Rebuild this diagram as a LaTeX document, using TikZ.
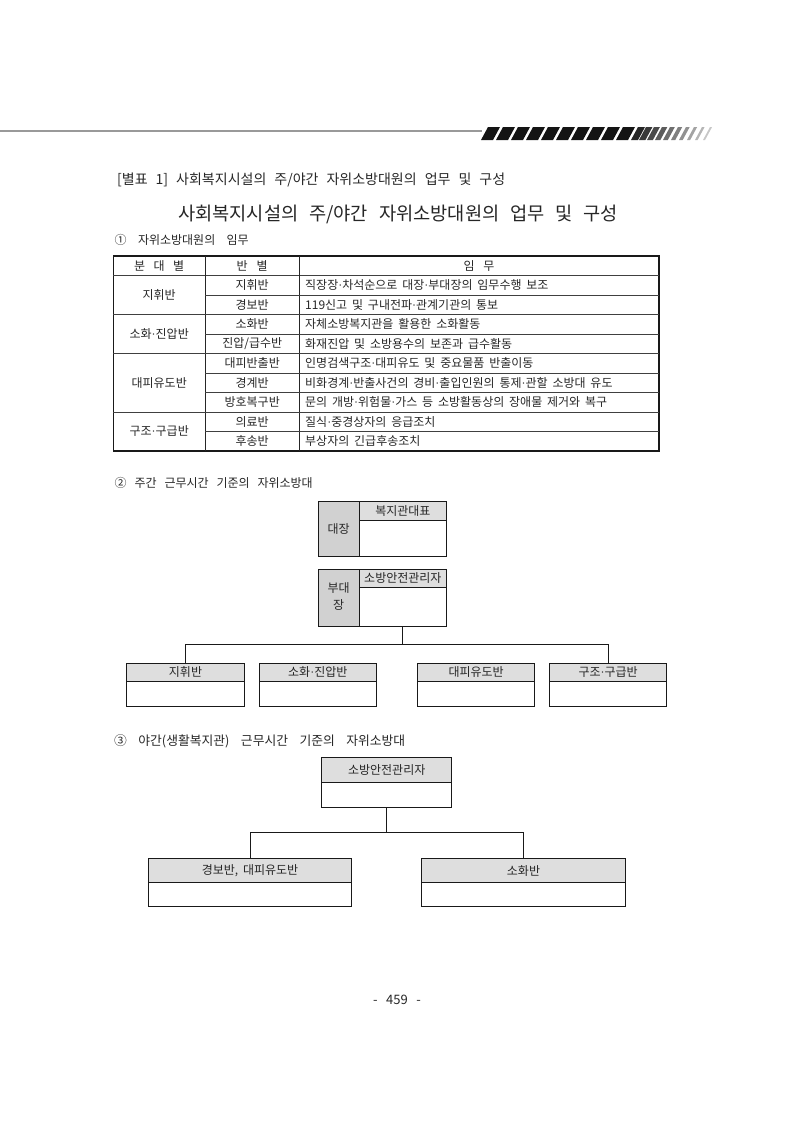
\documentclass[tikz,border=0pt]{standalone}
\usepackage{fontspec}
\setmainfont{Noto Sans CJK KR}[WordSpace=1.8]
\newfontfamily\latf{Liberation Serif}
\newcommand\mdt{{\latf ·}}
\begin{document}
\begin{tikzpicture}[x=1pt,y=-1pt,
  txt/.style={inner sep=0pt, text=black!85, font=\fontsize{12}{12}\selectfont},
  tline/.style={line width=0.6pt, black!75},
  box/.style={draw=black!90, line width=1pt, inner sep=0pt, outer sep=0pt, anchor=north west},
  hdr/.style={draw=black!90, line width=1pt, fill=black!13, inner sep=0pt, outer sep=0pt, anchor=north west, text=black!85, font=\fontsize{12}{12}\selectfont},
  side/.style={draw=black!90, line width=1pt, fill=black!18, inner sep=0pt, outer sep=0pt, anchor=north west},
  link/.style={line width=1pt, black!90}]
\useasboundingbox (0,0) rectangle (794,1122);
% ---- page header decoration
\draw[line width=1.8pt, black!40] (0,131) -- (482,131);
\foreach \i in {0,...,9}{
  \fill[black!92] (481+15*\i,140) -- (493+15*\i,140) -- (500+15*\i,127) -- (488+15*\i,127) -- cycle;
}
\foreach \j in {0,...,9}{
  \pgfmathsetmacro{\xx}{631+8*\j}
  \pgfmathsetmacro{\ww}{7-0.55*\j}
  \pgfmathsetmacro{\cc}{85-7*\j}
  \fill[black!\cc] (\xx,140) -- (\xx+\ww,140) -- (\xx+\ww+7,127) -- (\xx+7,127) -- cycle;
}
% ---- captions
\node[txt, anchor=west, font=\fontsize{14}{14}\selectfont] (cap) at (117,180) {\makebox[388pt][s]{[별표 1] 사회복지시설의 주/야간 자위소방대원의 업무 및 구성}};
\node[txt, font=\fontsize{18.7}{18.7}\selectfont] (title) at (398,214) {\makebox[440pt][s]{사회복지시설의 주/야간 자위소방대원의 업무 및 구성}};
\node[txt, anchor=west] (s1) at (114.5,240) {\makebox[134pt][s]{① 자위소방대원의 임무}};
% ---- table
\draw[line width=1.3pt, black!90] (113.3,256) rectangle (659,451);
\draw[tline] (113.3,275.5) -- (659,275.5);
\draw[line width=0.8pt, black!85] (205,256) -- (205,451);
\draw[line width=0.8pt, black!85] (299.3,256) -- (299.3,451);
\foreach \k in {1,3,5,6,8}{
  \draw[tline] (205,275.5+19.5*\k) -- (659,275.5+19.5*\k);
}
\foreach \k in {2,4,7}{
  \draw[tline] (113.3,275.5+19.5*\k) -- (659,275.5+19.5*\k);
}
\node[txt] (h1) at (159.2,265.8) {\makebox[50pt][s]{분 대 별}};
\node[txt] (h2) at (252.2,265.8) {\makebox[31pt][s]{반 별}};
\node[txt] (h3) at (479,265.8) {\makebox[31pt][s]{임 무}};
\node[txt] (g1) at (159.2,295) {지휘반};
\node[txt] (g2) at (159.2,334) {소화\mdt 진압반};
\node[txt] (g3) at (159.2,382.8) {대피유도반};
\node[txt] (g4) at (159.2,431.5) {구조\mdt 구급반};
\foreach \n/\t/\d in {1/지휘반/직장장\mdt 차석순으로 대장\mdt 부대장의 임무수행 보조,
  2/경보반/119신고 및 구내전파\mdt 관계기관의 통보,
  3/소화반/자체소방복지관을 활용한 소화활동,
  4/{진압/급수반}/화재진압 및 소방용수의 보존과 급수활동,
  5/대피반출반/인명검색구조\mdt 대피유도 및 중요물품 반출이동,
  6/경계반/비화경계\mdt 반출사건의 경비\mdt 출입인원의 통제\mdt 관할 소방대 유도,
  7/방호복구반/문의 개방\mdt 위험물\mdt 가스 등 소방활동상의 장애물 제거와 복구,
  8/의료반/질식\mdt 중경상자의 응급조치,
  9/후송반/부상자의 긴급후송조치}{
  \node[txt] (c\n) at (252.2,265.8+19.5*\n) {\t};
  \node[txt, anchor=west] (d\n) at (305,265.8+19.5*\n) {\d};
}
% ---- section 2
\node[txt, anchor=west] (s2) at (114.5,483) {\makebox[198pt][s]{② 주간 근무시간 기준의 자위소방대}};
\node[side, minimum width=40.7pt, minimum height=55.2pt] (jangL) at (318.3,501.5) {};
\node[hdr, minimum width=87.7pt, minimum height=18.5pt] (jangH) at (359,501.5) {복지관대표};
\node[box, minimum width=128.4pt, minimum height=55.2pt] (jang) at (318.3,501.5) {};
\node[txt] (jangT) at (jangL.center) {대장};
\node[side, minimum width=40.7pt, minimum height=57.5pt] (buL) at (318.3,569) {};
\node[hdr, minimum width=87.7pt, minimum height=18.3pt] (buH) at (359,569) {소방안전관리자};
\node[box, minimum width=128.4pt, minimum height=57.5pt] (bu) at (318.3,569) {};
\node[txt, align=center, font=\fontsize{12}{17}\selectfont] (buT) at ([yshift=1pt]buL.center) {부대\\장};
\foreach \n/\x/\t in {1/126.7/지휘반, 2/259/소화\mdt 진압반, 3/417.3/대피유도반, 4/549.3/구조\mdt 구급반}{
  \node[hdr, minimum width=117.6pt, minimum height=17.7pt] (b\n H) at (\x,663.3) {\t};
  \node[box, minimum width=117.6pt, minimum height=43.4pt] (b\n) at (\x,663.3) {};
}
\draw[link] (buH.center |- bu.south) -- ++(0,17.8) coordinate (bus);
\draw[link] (b1H.north) |- (bus) -| (b4H.north);
% ---- section 3
\node[txt, anchor=west, font=\fontsize{12.8}{12.8}\selectfont] (s3) at (114,741) {\makebox[291pt][s]{③ 야간(생활복지관) 근무시간 기준의 자위소방대}};
\node[hdr, minimum width=130pt, minimum height=25pt] (mgrH) at (321.7,757.3) {소방안전관리자};
\node[box, minimum width=130pt, minimum height=50pt] (mgr) at (321.7,757.3) {};
\node[hdr, minimum width=203.4pt, minimum height=24.4pt] (n1H) at (148.3,858.3) {경보반, 대피유도반};
\node[box, minimum width=203.4pt, minimum height=48.4pt] (n1) at (148.3,858.3) {};
\node[hdr, minimum width=203.6pt, minimum height=24.4pt] (n2H) at (421.7,858.3) {소화반};
\node[box, minimum width=203.6pt, minimum height=48.4pt] (n2) at (421.7,858.3) {};
\draw[link] (mgr.south) -- ++(0,25.4) coordinate (jn);
\draw[link] (n1H.north) |- (jn) -| (n2H.north);
% ---- page number
\node[txt, font=\fontsize{13}{13}\selectfont] (pg) at (397,1000) {\makebox[48pt][s]{- 459 -}};
\end{tikzpicture}
\end{document}
